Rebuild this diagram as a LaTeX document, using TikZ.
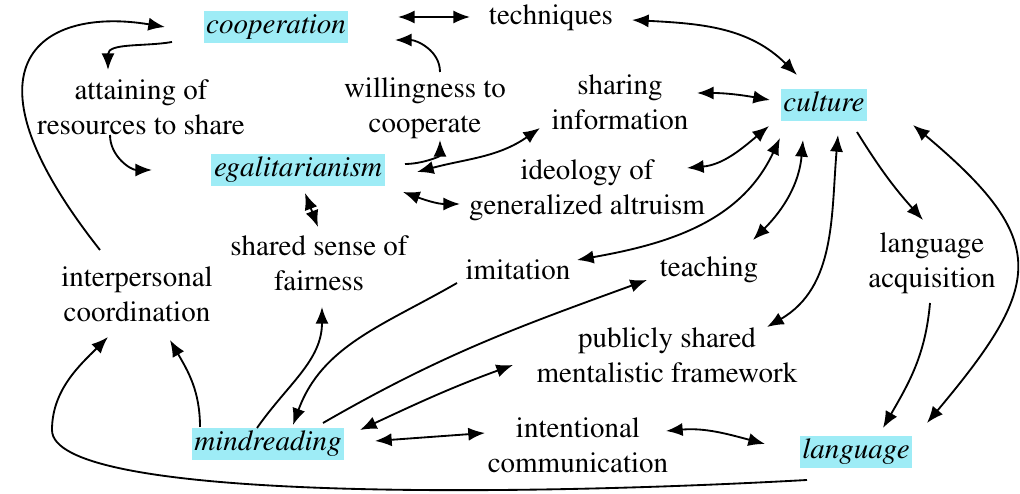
\documentclass[tikz,border=0pt]{standalone}
\usepackage[T1]{fontenc}
\usepackage{times}
\usetikzlibrary{arrows.meta,calc}
\definecolor{hlcyan}{RGB}{158,236,246}

\begin{document}
\begin{tikzpicture}[
    >={Latex[length=9.5pt,width=7.5pt]},
    every path/.style={line width=1.05pt},
    txt/.style={align=center,inner sep=1pt,font=\fontsize{16.5}{20}\selectfont},
    hl/.style={fill=hlcyan,inner xsep=1.5pt,inner ysep=1.6pt,text height=11.5pt,text depth=4pt,font=\fontsize{16.5}{20}\selectfont\itshape}]
        \useasboundingbox (0,0) rectangle (20.4,9.88);
        \node[hl] (coop) at (5.52,9.34) {cooperation};
        \node[txt] (tech) at (11.02,9.52) {techniques};
        \node[txt] (attain) at (2.82,7.74) {attaining of\\resources to share};
        \node[txt] (will) at (8.50,7.72) {willingness to\\cooperate};
        \node[txt] (share) at (12.40,7.84) {sharing\\information};
        \node[hl] (cult) at (16.48,7.78) {culture};
        \node[hl] (egal) at (5.96,6.48) {egalitarianism};
        \node[txt] (ideo) at (11.74,6.08) {ideology of\\generalized altruism};
        \node[txt] (fair) at (6.38,4.62) {shared sense of\\fairness};
        \node[txt] (inter) at (2.74,4.00) {interpersonal\\coordination};
        \node[txt] (imit) at (10.36,4.48) {imitation};
        \node[txt] (teach) at (14.18,4.48) {teaching};
        \node[txt] (acq) at (18.64,4.62) {language\\acquisition};
        \node[txt] (public) at (13.34,2.78) {publicly shared\\mentalistic framework};
        \node[hl] (mind) at (5.36,1.00) {mindreading};
        \node[txt] (intent) at (11.56,0.98) {intentional\\communication};
        \node[hl] (lang) at (17.12,0.84) {language};

        \draw [<->] ($(coop)+(2.44,0.20)$) -- ($(tech)+(-1.62,0.02)$);
        \draw [<->] ($(tech)+(1.62,-0.04)$) to[out=-3,in=135] ($(cult)+(-0.54,0.60)$);
        \draw [->] ($(coop)+(-2.08,-0.30)$) to[out=190,in=90] ($(attain)+(-0.66,0.74)$);
        \draw [->] ($(attain)+(-0.62,-0.56)$) to[out=-90,in=180] ($(egal)+(-2.92,0)$);
        \draw [->] ($(will)+(0.30,0.72)$) to[out=90,in=0] ($(coop)+(2.38,-0.26)$);
        \draw [->] ($(egal)+(2.14,0.12)$) to[out=0,in=-90] ($(will)+(0.30,-0.64)$);
        \draw [<->] ($(egal)+(2.38,-0.04)$) to[out=15,in=215] ($(share)+(-1.60,-0.52)$);
        \draw [<->] ($(egal)+(2.10,-0.44)$) to[out=-20,in=180] ($(ideo)+(-2.54,-0.28)$);
        \draw [<->] ($(egal)+(0.14,-0.46)$) -- ($(fair)+(-0.02,0.72)$);
        \draw [<->] ($(share)+(1.54,0.18)$) to[out=0,in=170] ($(cult)+(-1.08,0.10)$);
        \draw [<->] ($(ideo)+(2.00,0.44)$) to[out=5,in=220] ($(cult)+(-1.10,-0.42)$);
        \draw [<->] ($(cult)+(-0.88,-0.66)$) to[out=-115,in=10] ($(imit)+(1.18,0.20)$);
        \draw [<->] ($(cult)+(-0.42,-0.70)$) to[out=-95,in=45] ($(teach)+(0.88,0.60)$);
        \draw [<->] ($(cult)+(0.28,-0.60)$) to[out=-95,in=30] ($(public)+(2.00,0.56)$);
        \draw [->] ($(cult)+(0.66,-0.54)$) to[bend right=5] ($(acq)+(-0.18,0.86)$);
        \draw [->] ($(acq)+(-0.04,-0.80)$) to[out=-95,in=60] ($(lang)+(0.54,0.48)$);
        \draw [<->] ($(lang)+(1.42,0.58)$) to[out=50,in=-40,looseness=1.55] ($(cult)+(1.78,-0.40)$);
        \draw [->] ($(inter)+(-0.74,0.88)$) .. controls +(-3.0,3.8) and +(-2.4,0.4) .. ($(coop)+(-2.22,0)$);
        \draw [->] ($(mind)+(-1.36,0.34)$) to[out=90,in=-60] ($(inter)+(0.66,-0.92)$);
        \draw [->] ($(mind)+(-0.22,0.32)$) to[out=55,in=-90] ($(fair)+(0.06,-0.88)$);
        \draw [->] ($(imit)+(-1.22,-0.26)$) to[out=210,in=70] ($(mind)+(0.50,0.38)$);
        \draw [->] ($(mind)+(1.10,0.42)$) to[out=30,in=200] ($(teach)+(-1.24,-0.20)$);
        \draw [<->] ($(mind)+(1.84,0.28)$) to[out=25,in=200] ($(public)+(-3.08,-0.20)$);
        \draw [<->] ($(mind)+(2.14,0.06)$) -- ($(intent)+(-1.86,0.24)$);
        \draw [<->] ($(intent)+(1.76,0.28)$) to[out=5,in=165] ($(lang)+(-1.82,0.16)$);
        \draw [->] ($(lang)+(-0.98,-0.56)$) .. controls ($(lang)+(-7.12,-0.90)$) and ($(inter)+(-1.70,-4.12)$) .. ($(inter)+(-1.70,-2.72)$)
            .. controls ($(inter)+(-1.70,-1.92)$) and ($(inter)+(-1.14,-1.42)$) .. ($(inter)+(-0.58,-0.86)$);
    \end{tikzpicture}
\end{document}
